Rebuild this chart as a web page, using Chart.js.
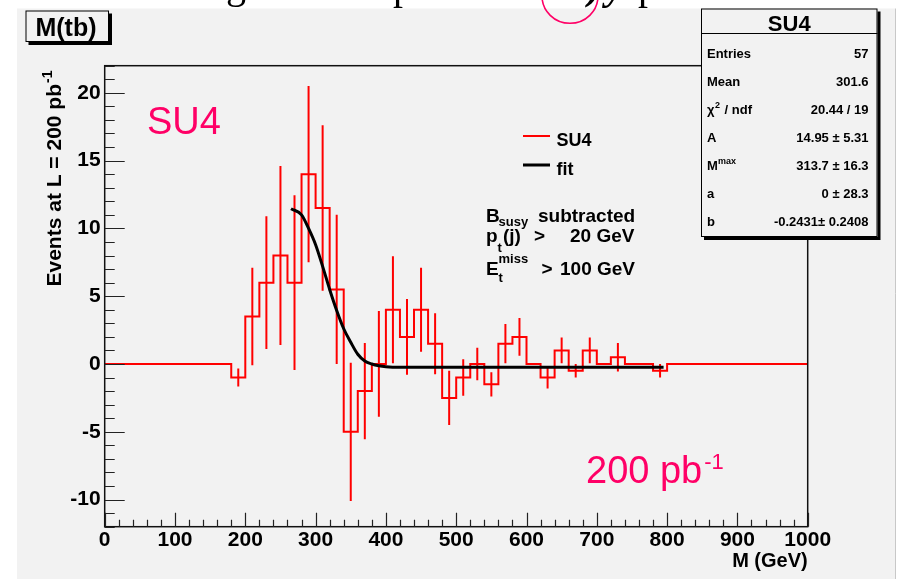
<!DOCTYPE html>
<html>
<head>
<meta charset="utf-8">
<title>M(tb) SU4</title>
<script src="https://cdn.jsdelivr.net/npm/chart.js@4.4.1/dist/chart.umd.min.js"></script>
<style>
  html, body { margin: 0; padding: 0; background: #ffffff; }
  #wrap { width: 897px; height: 579px; }
</style>
</head>
<body>
<div id="wrap"><canvas id="mtbChart" width="897" height="579"></canvas></div>
<script>
// Histogram bins, 20 GeV wide (empty outside 180-800)
const binLow = [180, 200, 220, 240, 260, 280, 300, 320, 340, 360,
                380, 400, 420, 440, 460, 480, 500, 520, 540, 560,
                580, 600, 620, 640, 660, 680, 700, 720, 740, 760, 780];
const binWidth = 20;
const counts = [-1.0, 3.5, 6.0, 8.0, 6.0, 14.0, 11.5, 5.5, -5.0, -2.0,
                0.0, 4.0, 2.0, 4.0, 1.5, -2.5, -1.0, 0.0, -1.5, 1.5,
                2.0, 0.0, -1.0, 1.0, -0.5, 1.0, 0.0, 0.5, 0.0, 0.0, -0.5];
const errors = [0.66, 3.6, 4.9, 6.6, 6.45, 6.5, 6.1, 5.5, 5.1, 3.55,
                3.9, 3.95, 2.8, 3.1, 2.25, 2.0, 1.35, 1.2, 0.9, 1.45,
                1.4, 0, 0.8, 0.95, 0.5, 0.95, 0, 1.05, 0, 0, 0.5];

// Fit curve
const fitM = [265, 280, 290, 300, 310, 320, 330, 340, 350, 360, 370, 380, 390, 400, 420, 795];
const fitY = [11.45, 11.0, 10.0, 8.8, 7.2, 5.5, 3.95, 2.6, 1.6, 0.72, 0.22, 0.0, -0.13, -0.2, -0.24, -0.24];

// Axes
const xRange = [0, 1000];
const yRange = [-12, 22];
const xTicks = [0, 100, 200, 300, 400, 500, 600, 700, 800, 900, 1000];
const yTicks = [-10, -5, 0, 5, 10, 15, 20];

// Stats box
const statsTitle = 'SU4';
const statsLabels = ['Entries', 'Mean', 'chi2', 'A', 'Mmax', 'a', 'b'];
const statsValues = ['57', '301.6', '20.44 / 19', '14.95 \u00b1 5.31', '313.7 \u00b1 16.3', '0 \u00b1 28.3', '-0.2431\u00b1 0.2408'];

const SANS = '"Liberation Sans", Arial, Helvetica, sans-serif';
const PINK = 'rgb(255, 0, 102)';
const CANVAS_GREY = '#f2f2f2';

// step outline of the histogram
const histPoints = [{ x: xRange[0], y: 0 }, { x: binLow[0], y: 0 }];
binLow.forEach((lo, i) => {
    histPoints.push({ x: lo, y: counts[i] });
    histPoints.push({ x: lo + binWidth, y: counts[i] });
});
histPoints.push({ x: binLow[binLow.length - 1] + binWidth, y: 0 });
histPoints.push({ x: xRange[1], y: 0 });

// error bars, broken apart with null points
const errPoints = [];
binLow.forEach((lo, i) => {
    if (errors[i] <= 0) return;
    const c = lo + binWidth / 2;
    errPoints.push({ x: c, y: counts[i] - errors[i] });
    errPoints.push({ x: c, y: counts[i] + errors[i] });
    errPoints.push({ x: c, y: null });
});

const fitPoints = fitM.map((m, i) => ({ x: m, y: fitY[i] }));

function boldFont(size) { return 'bold ' + size + 'px ' + SANS; }

function drawShadowBox(ctx, x, y, w, h, shadow) {
    ctx.fillStyle = '#000';
    ctx.fillRect(x + shadow, y + shadow, w, h);
    ctx.fillStyle = CANVAS_GREY;
    ctx.fillRect(x, y, w, h);
    ctx.strokeStyle = '#000';
    ctx.lineWidth = 1;
    ctx.strokeRect(x + 0.5, y + 0.5, w - 1, h - 1);
}

const rootLook = {
    id: 'rootLook',
    beforeDraw(chart) {
        const ctx = chart.ctx;
        ctx.save();
        ctx.fillStyle = '#ffffff';
        ctx.fillRect(0, 0, chart.width, chart.height);
        // descenders of the page text above the figure
        ctx.fillStyle = '#000';
        ctx.font = '40px "Liberation Serif", "DejaVu Serif", serif';
        ctx.fillText('g', 226, -2);
        ctx.fillText('p', 393, -1);
        ctx.fillText('p', 638, -1);
        ctx.font = 'bold italic 40px "Liberation Serif", serif';
        ctx.fillText(')', 588, -1);
        ctx.fillText('y', 606, -1);
        // ROOT canvas
        ctx.fillStyle = CANVAS_GREY;
        ctx.fillRect(17, 8.5, 878, 571);
        ctx.strokeStyle = '#c8c8c8';
        ctx.lineWidth = 1;
        ctx.beginPath();
        ctx.moveTo(895.5, 8.5);
        ctx.lineTo(895.5, 579);
        ctx.stroke();
        ctx.restore();
    },
    afterDatasetsDraw(chart) {
        const ctx = chart.ctx;
        const { left, right, top, bottom } = chart.chartArea;
        const xs = chart.scales.x, ys = chart.scales.y;
        ctx.save();
        // frame
        ctx.strokeStyle = '#111';
        ctx.lineWidth = 1.5;
        ctx.strokeRect(left, top, right - left, bottom - top);
        // x ticks, pointing in
        ctx.lineWidth = 1.2;
        ctx.strokeStyle = '#222';
        ctx.beginPath();
        for (let v = xRange[0]; v <= xRange[1]; v += 20) {
            const px = Math.round(xs.getPixelForValue(v)) + 0.5;
            const len = v % 100 === 0 ? 14 : 7;
            ctx.moveTo(px, bottom);
            ctx.lineTo(px, bottom - len);
        }
        // y ticks
        for (let v = yRange[0]; v <= yRange[1]; v += 1) {
            const py = Math.round(ys.getPixelForValue(v)) + 0.5;
            const len = v % 5 === 0 ? 20 : 10;
            ctx.moveTo(left, py);
            ctx.lineTo(left + len, py);
        }
        ctx.stroke();
        ctx.restore();
    },
    afterDraw(chart) {
        const ctx = chart.ctx;
        ctx.save();
        ctx.textBaseline = 'alphabetic';

        // y axis title, reading upwards
        ctx.save();
        ctx.translate(61, 286.5);
        ctx.rotate(-Math.PI / 2);
        ctx.fillStyle = '#000';
        ctx.font = boldFont(21);
        const yt = 'Events at L = 200 pb';
        ctx.fillText(yt, 0, 0);
        const ytw = ctx.measureText(yt).width;
        ctx.font = boldFont(14);
        ctx.fillText('-1', ytw + 1, -9);
        ctx.restore();

        // M(tb) title box
        drawShadowBox(ctx, 25.5, 10.5, 83.5, 31.5, 3);
        ctx.fillStyle = '#000';
        ctx.font = boldFont(25);
        ctx.textAlign = 'center';
        ctx.fillText('M(tb)', 66, 35.5);
        ctx.textAlign = 'left';

        // legend
        ctx.lineWidth = 2;
        ctx.strokeStyle = '#ff0000';
        ctx.beginPath(); ctx.moveTo(523, 136); ctx.lineTo(550, 136); ctx.stroke();
        ctx.lineWidth = 3;
        ctx.strokeStyle = '#000';
        ctx.beginPath(); ctx.moveTo(523, 165); ctx.lineTo(550, 165); ctx.stroke();
        ctx.font = boldFont(18);
        ctx.fillText('SU4', 556.5, 146);
        ctx.fillText('fit', 556.5, 175);

        // selection text
        ctx.font = boldFont(19);
        ctx.fillText('B', 486, 221.5);
        ctx.fillText('subtracted', 538, 221.5);
        ctx.fillText('p', 486, 241.5);
        ctx.fillText('(j)', 503, 241.5);
        ctx.fillText('>', 534, 241.5);
        ctx.fillText('20 GeV', 570, 241.5);
        ctx.fillText('E', 486, 275);
        ctx.fillText('>', 541.5, 275);
        ctx.fillText('100 GeV', 560, 275);
        ctx.font = boldFont(13);
        ctx.fillText('susy', 498.5, 226);
        ctx.fillText('t', 497.5, 251.5);
        ctx.fillText('miss', 498.5, 263);
        ctx.fillText('t', 498.5, 281.5);

        // pink labels
        ctx.fillStyle = PINK;
        ctx.font = '38px ' + SANS;
        ctx.fillText('SU4', 147, 134);
        ctx.fillText('200 pb', 586, 483);
        const pbw = ctx.measureText('200 pb').width;
        ctx.font = '22px ' + SANS;
        ctx.fillText('-1', 586 + pbw + 2, 469);

        // stats box
        const bx = 701, by = 8.5, bw = 176.5, bh = 228.5;
        drawShadowBox(ctx, bx, by, bw, bh, 3);
        ctx.strokeStyle = '#000';
        ctx.lineWidth = 1;
        ctx.beginPath(); ctx.moveTo(bx, 33.5); ctx.lineTo(bx + bw, 33.5); ctx.stroke();
        ctx.fillStyle = '#000';
        ctx.font = boldFont(22);
        ctx.textAlign = 'center';
        ctx.fillText(statsTitle, bx + bw / 2, 31);
        statsLabels.forEach((lab, i) => {
            const yb = 58 + i * 28;
            ctx.textAlign = 'left';
            ctx.font = boldFont(13);
            if (lab === 'chi2') {
                ctx.fillText('\u03c7', 707, yb);
                ctx.font = boldFont(9);
                ctx.fillText('2', 715, yb - 6);
                ctx.font = boldFont(13);
                ctx.fillText(' / ndf', 721, yb);
            } else if (lab === 'Mmax') {
                ctx.fillText('M', 707, yb);
                ctx.font = boldFont(9);
                ctx.fillText('max', 718, yb - 6);
            } else {
                ctx.fillText(lab, 707, yb);
            }
            ctx.textAlign = 'right';
            ctx.font = boldFont(13);
            ctx.fillText(statsValues[i], 868.5, yb);
        });

        // pen mark from the page
        ctx.strokeStyle = PINK;
        ctx.lineWidth = 1.6;
        ctx.beginPath();
        ctx.ellipse(570, -4, 28, 27.3, 0, 0, Math.PI * 2);
        ctx.stroke();
        ctx.restore();
    }
};

const tickFont = { family: SANS, weight: 'bold', size: 21, lineHeight: 1.2 };

new Chart(document.getElementById('mtbChart'), {
    type: 'line',
    data: {
        datasets: [
            {
                label: 'fit',
                data: fitPoints,
                borderColor: '#000000',
                borderWidth: 3,
                pointRadius: 0,
                cubicInterpolationMode: 'monotone',
                fill: false,
                order: 0
            },
            {
                label: 'SU4',
                data: histPoints,
                borderColor: '#ff0000',
                borderWidth: 2,
                borderJoinStyle: 'miter',
                pointRadius: 0,
                tension: 0,
                fill: false,
                order: 1
            },
            {
                label: 'SU4 errors',
                data: errPoints,
                borderColor: '#ff0000',
                borderWidth: 2,
                pointRadius: 0,
                tension: 0,
                spanGaps: false,
                fill: false,
                order: 2
            }
        ]
    },
    options: {
        responsive: false,
        animation: false,
        events: [],
        layout: {
            padding: { left: 0, top: 65.7, right: 89.3, bottom: 0 }
        },
        plugins: {
            legend: { display: false },
            tooltip: { enabled: false }
        },
        scales: {
            x: {
                type: 'linear',
                min: xRange[0],
                max: xRange[1],
                grid: { display: false, drawTicks: false },
                border: { display: false },
                afterBuildTicks: scale => { scale.ticks = xTicks.map(v => ({ value: v })); },
                afterFit: scale => { scale.height = 52.3; },
                ticks: {
                    color: '#000',
                    font: tickFont,
                    padding: 1,
                    maxRotation: 0,
                    autoSkip: false,
                    callback: v => String(v)
                },
                title: {
                    display: true,
                    text: 'M (GeV)',
                    align: 'end',
                    color: '#000',
                    font: { family: SANS, weight: 'bold', size: 20, lineHeight: 1.2 },
                    padding: { top: 0, bottom: 6 }
                }
            },
            y: {
                type: 'linear',
                min: yRange[0],
                max: yRange[1],
                grid: { display: false, drawTicks: false },
                border: { display: false },
                afterBuildTicks: scale => { scale.ticks = yTicks.map(v => ({ value: v })); },
                afterFit: scale => { scale.width = 104.7; },
                ticks: {
                    color: '#000',
                    font: tickFont,
                    padding: 4,
                    autoSkip: false,
                    callback: v => String(v)
                }
            }
        }
    },
    plugins: [rootLook]
});
</script>
</body>
</html>
